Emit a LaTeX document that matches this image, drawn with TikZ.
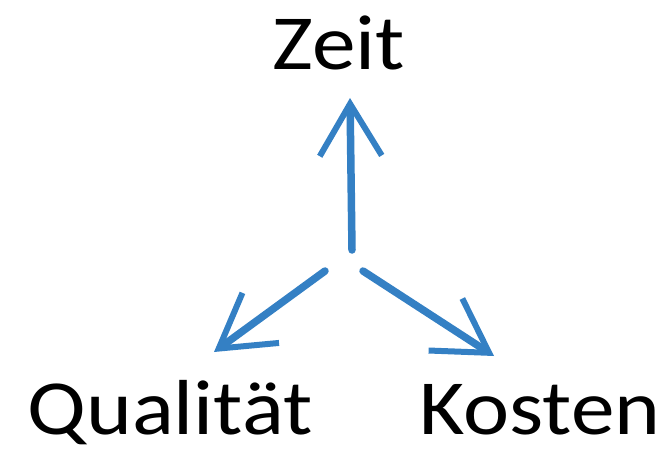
\documentclass[tikz,border=0pt]{standalone}
\usepackage{fontspec}
\setmainfont{Carlito}
\usetikzlibrary{arrows.meta}
\definecolor{arrowblue}{RGB}{52,128,196}
\begin{document}
\begin{tikzpicture}[x=1pt, y=-1pt,
    every node/.style={font=\fontsize{78}{78}\selectfont, inner sep=0pt, anchor=base, xscale=1.12},
    flow/.style={draw=arrowblue, line width=7.5pt, line cap=round,
        -{Straight Barb[length=52pt, width=62pt, line width=6pt]}}]
    \useasboundingbox (0,0) rectangle (672,452);
    % Labels
    \node (zeit) at (339,70) {Zeit};
    \node (quali) at (170,434) {Qualität};
    \node (kosten) at (540,434) {Kosten};
    
    % Arrow ends
    \coordinate (up) at (350,98);
    \coordinate (left) at (214,352);
    \coordinate (right) at (494,356);
    \coordinate (upstart) at (352,250);
    \coordinate (leftstart) at (325,271);
    \coordinate (rightstart) at (363,271);
    
    % Arrows
    \draw[flow] (upstart) -- (up);
    \draw[flow] (leftstart) -- (left);
    \draw[flow] (rightstart) -- (right);
\end{tikzpicture}
\end{document}
